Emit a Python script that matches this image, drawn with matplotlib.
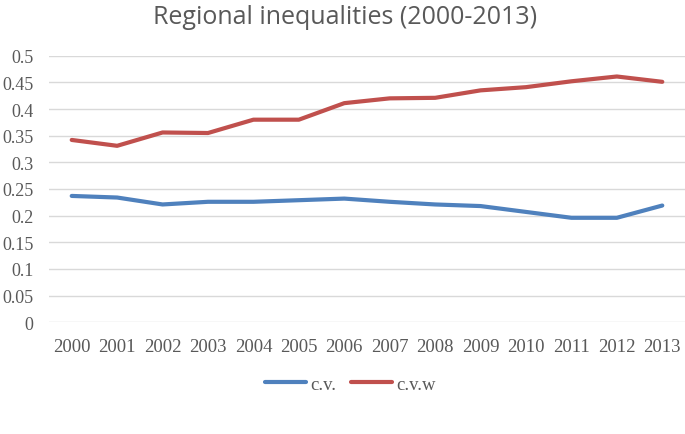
import matplotlib.pyplot as plt
import numpy as np

years = [str(y) for y in range(2000, 2014)]
cv = [0.237, 0.234, 0.221, 0.226, 0.226, 0.229, 0.232, 0.226, 0.221, 0.218,
      0.207, 0.196, 0.196, 0.219]
cvw = [0.342, 0.331, 0.356, 0.355, 0.380, 0.380, 0.411, 0.420, 0.421, 0.435,
       0.441, 0.452, 0.461, 0.451]
yticks = [0, 0.05, 0.1, 0.15, 0.2, 0.25, 0.3, 0.35, 0.4, 0.45, 0.5]
ytick_labels = ["0", "0.05", "0.1", "0.15", "0.2", "0.25", "0.3", "0.35", "0.4", "0.45", "0.5"]

grey = "#595959"
fig = plt.figure(figsize=(6.85, 4.35), dpi=100)
ax = fig.add_axes([49 / 685, 1 - 323.3 / 435, 636 / 685, (323.3 - 56.7) / 435])

x = np.arange(len(years))
ax.plot(x, cv, color="#4f81bd", lw=3.0, solid_capstyle="round", label="c.v.")
ax.plot(x, cvw, color="#c0504d", lw=3.0, solid_capstyle="round", label="c.v.w")

ax.set_xlim(-0.5, len(years) - 0.5)
ax.set_ylim(0, 0.5)
ax.set_yticks(yticks)
ax.set_yticklabels(ytick_labels)
ax.set_xticks(x)
ax.set_xticklabels(years)
ax.grid(axis="y", color="#d9d9d9", lw=1)
ax.set_axisbelow(True)
for s in ax.spines.values():
    s.set_visible(False)
ax.tick_params(length=0, colors=grey, labelsize=13.5)
ax.tick_params(axis="x", pad=11)
ax.tick_params(axis="y", pad=11, labelsize=13)
for lab in ax.get_xticklabels() + ax.get_yticklabels():
    lab.set_family("Liberation Serif")

fig.text(345 / 685, 1 - 18 / 435, "Regional inequalities (2000-2013)", ha="center", va="center",
         fontsize=18, color=grey, family="Open Sans")

leg = fig.legend(loc="center", bbox_to_anchor=(350 / 685, 1 - 385 / 435), ncol=2, frameon=False,
                 handlelength=2.2, columnspacing=0.8, handletextpad=0.2,
                 prop={"family": "Liberation Serif", "size": 13.5})
for t in leg.get_texts():
    t.set_color(grey)

fig.savefig("out.png", dpi=100)
